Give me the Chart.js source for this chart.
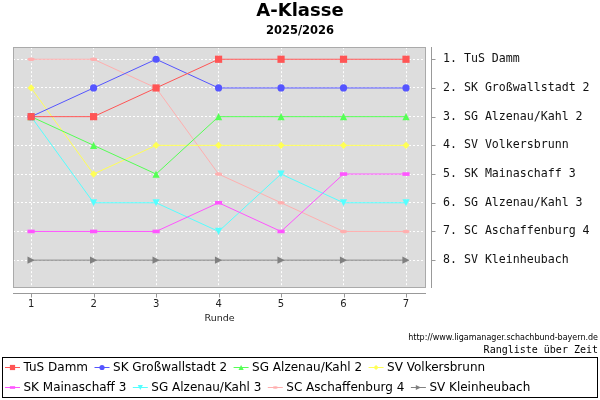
<!DOCTYPE html>
<html>
<head>
<meta charset="utf-8">
<script src="https://cdn.jsdelivr.net/npm/chart.js@4/dist/chart.umd.min.js"></script>
<style>html,body{margin:0;padding:0;background:#fff}canvas{display:block}</style>
</head>
<body>
<canvas id="c" width="600" height="400"></canvas>
<script>
// ---- data ----
const rounds = [1, 2, 3, 4, 5, 6, 7];
const teams = ['TuS Damm', 'SK Großwallstadt 2', 'SG Alzenau/Kahl 2', 'SV Volkersbrunn',
               'SK Mainaschaff 3', 'SG Alzenau/Kahl 3', 'SC Aschaffenburg 4', 'SV Kleinheubach'];
const tusDamm          = [3, 3, 2, 1, 1, 1, 1];
const skGrosswallstadt2 = [3, 2, 1, 2, 2, 2, 2];
const sgAlzenauKahl2   = [3, 4, 5, 3, 3, 3, 3];
const svVolkersbrunn   = [2, 5, 4, 4, 4, 4, 4];
const skMainaschaff3   = [7, 7, 7, 6, 7, 5, 5];
const sgAlzenauKahl3   = [3, 6, 6, 7, 5, 6, 6];
const scAschaffenburg4 = [1, 1, 2, 5, 6, 7, 7];
const svKleinheubach   = [8, 8, 8, 8, 8, 8, 8];
const ranks = [1, 2, 3, 4, 5, 6, 7, 8];
const rankLabels = ['1. TuS Damm', '2. SK Großwallstadt 2', '3. SG Alzenau/Kahl 2', '4. SV Volkersbrunn',
                    '5. SK Mainaschaff 3', '6. SG Alzenau/Kahl 3', '7. SC Aschaffenburg 4', '8. SV Kleinheubach'];
const titleText = 'A-Klasse';
const subtitleText = '2025/2026';
const xTitle = 'Runde';
const sourceText = 'http://www.ligamanager.schachbund-bayern.de';
const captionText = 'Rangliste über Zeit';

// ---- styles ----
const seriesValues = [tusDamm, skGrosswallstadt2, sgAlzenauKahl2, svVolkersbrunn,
                      skMainaschaff3, sgAlzenauKahl3, scAschaffenburg4, svKleinheubach];
const colors = ['#ff5555', '#5555ff', '#55ff55', '#ffff55', '#ff55ff', '#55ffff', '#ffafaf', '#808080'];
const shapes = ['square', 'circle', 'up', 'diamond', 'hrect', 'down', 'hellipse', 'right'];

function shapePath(ctx, type, x, y, d) {
  ctx.beginPath();
  switch (type) {
    case 'square': ctx.rect(x - d, y - d, 2 * d, 2 * d); break;
    case 'circle': ctx.arc(x, y, d, 0, Math.PI * 2); break;
    case 'up': ctx.moveTo(x, y - d); ctx.lineTo(x + d, y + d); ctx.lineTo(x - d, y + d); ctx.closePath(); break;
    case 'diamond': ctx.moveTo(x, y - d); ctx.lineTo(x + d, y); ctx.lineTo(x, y + d); ctx.lineTo(x - d, y); ctx.closePath(); break;
    case 'hrect': ctx.rect(x - d, y - d / 2, 2 * d, d); break;
    case 'down': ctx.moveTo(x - d, y - d); ctx.lineTo(x + d, y - d); ctx.lineTo(x, y + d); ctx.closePath(); break;
    case 'hellipse': ctx.ellipse(x, y, d, d / 2, 0, 0, Math.PI * 2); break;
    case 'right': ctx.moveTo(x - d, y - d); ctx.lineTo(x + d, y); ctx.lineTo(x - d, y + d); ctx.closePath(); break;
  }
}

const decor = {
  id: 'decor',
  beforeDraw(chart) {
    const ctx = chart.ctx, a = chart.chartArea;
    ctx.save();
    ctx.fillStyle = '#ffffff';
    ctx.fillRect(0, 0, chart.width, chart.height);
    ctx.fillStyle = '#dddddd';
    ctx.fillRect(a.left, a.top, a.right - a.left, a.bottom - a.top);
    ctx.restore();
  },
  afterDatasetsDraw(chart) {
    const ctx = chart.ctx, a = chart.chartArea;
    ctx.save();
    // markers on top of all lines, first series topmost
    for (let i = chart.data.datasets.length - 1; i >= 0; i--) {
      const meta = chart.getDatasetMeta(i);
      ctx.fillStyle = colors[i];
      meta.data.forEach(p => { shapePath(ctx, shapes[i], p.x, p.y, 3.6); ctx.fill(); });
    }
    // plot outline
    ctx.strokeStyle = '#aaaaaa';
    ctx.lineWidth = 1;
    const l = Math.floor(a.left) + 0.5, t = Math.floor(a.top) + 0.5;
    const r = Math.ceil(a.right) - 0.5, b = Math.ceil(a.bottom) - 0.5;
    ctx.strokeRect(l, t, r - l, b - t);
    // separate axis lines with outward tick marks
    const xs = chart.scales.x, ys = chart.scales.y;
    ctx.strokeStyle = '#999999';
    ctx.beginPath();
    const ay = Math.ceil(a.bottom) + 5.5;
    ctx.moveTo(Math.floor(a.left), ay); ctx.lineTo(Math.ceil(a.right), ay);
    rounds.forEach(v => { const px = Math.round(xs.getPixelForValue(v)) + 0.5; ctx.moveTo(px, ay); ctx.lineTo(px, ay + 4); });
    const ax = Math.ceil(a.right) + 5.5;
    ctx.moveTo(ax, Math.floor(a.top)); ctx.lineTo(ax, Math.ceil(a.bottom));
    ranks.forEach(v => { const py = Math.round(ys.getPixelForValue(v)) + 0.5; ctx.moveTo(ax, py); ctx.lineTo(ax + 4, py); });
    ctx.stroke();
    ctx.restore();
  },
  afterDraw(chart) {
    const ctx = chart.ctx;
    ctx.save();
    ctx.fillStyle = '#000';
    ctx.textAlign = 'right';
    ctx.textBaseline = 'middle';
    ctx.font = '8px "DejaVu Sans"';
    ctx.fillText(sourceText, 598, 338);
    ctx.font = '10px "DejaVu Sans Mono"';
    ctx.fillText(captionText, 598, 350);
    // legend
    ctx.strokeStyle = '#000';
    ctx.lineWidth = 1;
    ctx.strokeRect(2.5, 357.5, 595, 40);
    ctx.font = '12px "DejaVu Sans"';
    ctx.textAlign = 'left';
    let x = 5, y = 367;
    chart.data.datasets.forEach((ds, i) => {
      const w = 18.5 + ctx.measureText(ds.label).width + 6.5;
      if (x + w > 597 && x > 5) { x = 5; y += 20; }
      ctx.strokeStyle = colors[i];
      ctx.beginPath(); ctx.moveTo(x, y + 0.5); ctx.lineTo(x + 15, y + 0.5); ctx.stroke();
      ctx.fillStyle = colors[i];
      shapePath(ctx, shapes[i], x + 7.5, y + 0.5, 2.6); ctx.fill();
      ctx.fillStyle = '#000';
      ctx.fillText(ds.label, x + 18.5, y + 1);
      x += w;
    });
    ctx.restore();
  }
};

const datasets = seriesValues.map((vals, i) => ({
  label: teams[i],
  data: rounds.map((r, j) => ({ x: r, y: vals[j] })),
  xAxisID: 'x',
  yAxisID: 'y',
  borderColor: colors[i],
  backgroundColor: colors[i],
  borderWidth: 1,
  pointRadius: 0,
  pointHoverRadius: 0,
  fill: false,
  tension: 0
}));

new Chart(document.getElementById('c'), {
  type: 'line',
  data: { datasets },
  plugins: [decor],
  options: {
    responsive: false,
    animation: false,
    events: [],
    devicePixelRatio: 1,
    layout: { padding: { left: 0, right: 0, top: 0, bottom: 72 } },
    plugins: {
      legend: { display: false },
      tooltip: { enabled: false },
      title: { display: true, text: titleText, color: '#000',
               font: { family: 'DejaVu Sans', size: 18, weight: 'bold' }, padding: { top: 1, bottom: 0 } },
      subtitle: { display: true, text: subtitleText, color: '#000',
                  font: { family: 'DejaVu Sans', size: 11.5, weight: 'bold' }, padding: { top: 1.2, bottom: 9.6 } }
    },
    scales: {
      x: {
        type: 'linear', min: 0.71, max: 7.32,
        afterBuildTicks: s => { s.ticks = rounds.map(v => ({ value: v })); },
        afterFit: s => { s.height = 40; },
        grid: { color: '#ffffff', lineWidth: 1, drawTicks: false },
        border: { display: false, dash: [2, 2] },
        ticks: { padding: 10, color: '#222', font: { family: 'DejaVu Sans', size: 10 },
                 callback: (v, i) => String(rounds[i]) },
        title: { display: true, text: xTitle, color: '#222',
                 font: { family: 'DejaVu Sans', size: 9.5 }, padding: { top: 0, bottom: 4 } }
      },
      y: {
        type: 'linear', position: 'right', reverse: true, min: 0.58, max: 8.97,
        afterBuildTicks: s => { s.ticks = ranks.map(v => ({ value: v })); },
        afterFit: s => { s.width = 174; },
        grid: { color: '#ffffff', lineWidth: 1, drawTicks: false },
        border: { display: false, dash: [2, 2] },
        ticks: { padding: 17, color: '#111', font: { family: 'DejaVu Sans Mono', size: 11.6 },
                 callback: (v, i) => rankLabels[i] }
      },
      yLeft: {
        type: 'linear', position: 'left', display: true, min: 0, max: 1,
        afterFit: s => { s.width = 13; },
        grid: { display: false },
        border: { display: false },
        ticks: { display: false }
      }
    }
  }
});
</script>
</body>
</html>
